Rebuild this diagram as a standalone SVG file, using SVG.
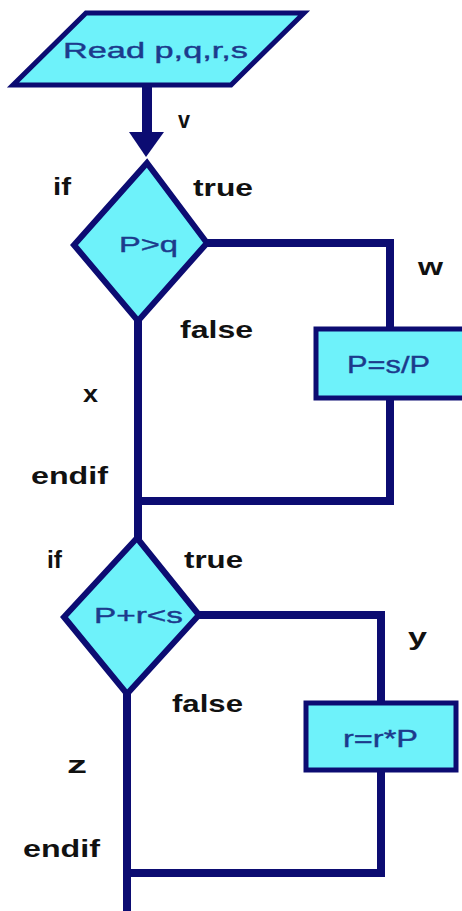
<svg xmlns="http://www.w3.org/2000/svg" width="462" height="911" viewBox="0 0 462 911">
<style>
.shape{fill:#6ef2fa;stroke:#0c0c72;stroke-linejoin:miter}
.ln{fill:none;stroke:#0c0c72;stroke-width:8;stroke-linejoin:miter}
.nt{font-family:"Liberation Sans",Arial,sans-serif;font-size:22px;fill:#1c3a8c;stroke:#1c3a8c;stroke-width:0.4}
.lb{font-family:"Liberation Sans",Arial,sans-serif;font-weight:bold;font-size:24px;fill:#111}
</style>
<rect width="462" height="911" fill="#fff"/>
<g id="connectors">
<line class="ln" x1="147" y1="84" x2="147" y2="134" style="stroke-width:10"/>
<polygon points="129,132 164,132 146,157" fill="#0c0c72"/>
<polyline class="ln" points="138,320 138,539"/>
<polyline class="ln" points="206,243 390,243 390,329"/>
<polyline class="ln" points="390,397 390,501 138,501"/>
<polyline class="ln" points="127,692 127,911"/>
<polyline class="ln" points="198,615 381,615 381,703"/>
<polyline class="ln" points="381,770 381,873 127,873"/>
</g>
<g id="read">
<polygon class="shape" points="86,13 304,13 231,85 13,85" stroke-width="5"/>
<text class="nt" x="63" y="58" textLength="185" lengthAdjust="spacingAndGlyphs">Read p,q,r,s</text>
</g>
<g id="cond1">
<polygon class="shape" points="147,163 207,243 138,321 74,245" stroke-width="6"/>
<text class="nt" x="119" y="252" textLength="59" lengthAdjust="spacingAndGlyphs">P&gt;q</text>
</g>
<g id="assign1">
<rect class="shape" x="316" y="329" width="160" height="69" stroke-width="5"/>
<text class="nt" x="347" y="373" textLength="83" lengthAdjust="spacingAndGlyphs" style="font-size:24px">P=s/P</text>
</g>
<g id="cond2">
<polygon class="shape" points="137,538 199,615 127,694 64,617" stroke-width="6"/>
<text class="nt" x="94" y="623" textLength="89" lengthAdjust="spacingAndGlyphs">P+r&lt;s</text>
</g>
<g id="assign2">
<rect class="shape" x="306" y="703" width="150" height="67" stroke-width="5"/>
<text class="nt" x="343" y="747" textLength="75" lengthAdjust="spacingAndGlyphs" style="font-size:24px">r=r*P</text>
</g>
<g id="labels">
<text class="lb" x="178" y="128" textLength="12" lengthAdjust="spacingAndGlyphs">v</text>
<text class="lb" x="53" y="195" textLength="18" lengthAdjust="spacingAndGlyphs">if</text>
<text class="lb" x="193" y="196" textLength="60" lengthAdjust="spacingAndGlyphs">true</text>
<text class="lb" x="418" y="275" textLength="25" lengthAdjust="spacingAndGlyphs">w</text>
<text class="lb" x="180" y="338" textLength="73" lengthAdjust="spacingAndGlyphs">false</text>
<text class="lb" x="83" y="402" textLength="15" lengthAdjust="spacingAndGlyphs">x</text>
<text class="lb" x="31" y="484" textLength="77" lengthAdjust="spacingAndGlyphs">endif</text>
<text class="lb" x="47" y="568" textLength="15" lengthAdjust="spacingAndGlyphs">if</text>
<text class="lb" x="184" y="568" textLength="59" lengthAdjust="spacingAndGlyphs">true</text>
<text class="lb" x="408" y="645" textLength="19" lengthAdjust="spacingAndGlyphs">y</text>
<text class="lb" x="172" y="712" textLength="71" lengthAdjust="spacingAndGlyphs">false</text>
<text class="lb" x="67" y="773" textLength="20" lengthAdjust="spacingAndGlyphs">z</text>
<text class="lb" x="23" y="857" textLength="77" lengthAdjust="spacingAndGlyphs">endif</text>
</g>
</svg>
